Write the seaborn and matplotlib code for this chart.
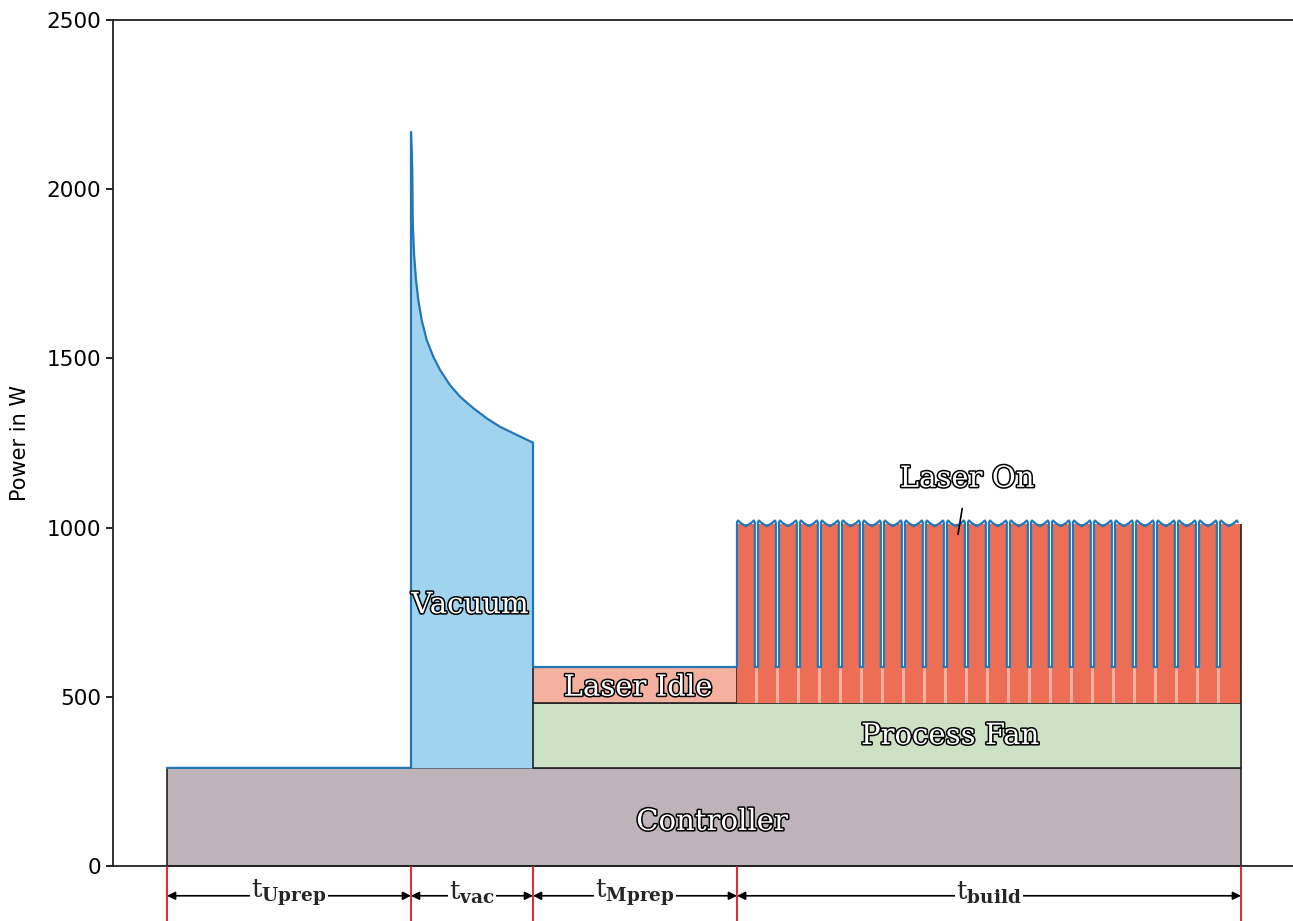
import numpy as np
import pandas as pd
import matplotlib
matplotlib.use("Agg")
import matplotlib.pyplot as plt
import matplotlib.patheffects as pe
import seaborn as sns

# phase boundaries (time, arbitrary units)
t_start, t_vac, t_mprep, t_build, t_end = 0, 244, 366, 570, 1074

# component power levels in W
p_controller = 290
p_fan_top = 483
p_idle_top = 588

# vacuum pump trace (time offset after t_vac, power in W)
vac_dt = [0, 1.3, 1.7, 3, 5, 7.3, 10.7, 15.7, 22.3, 29, 39, 49, 62.3, 75.7, 89, 105.7, 122]
vac_w = [2169, 2057, 1909, 1811, 1732, 1672, 1613, 1554, 1505, 1466, 1421, 1387, 1353, 1323, 1298, 1274, 1251]

# laser-on pulses
pulse_count = 24
pulse_period = 21
pulse_on = 17.8
pulse_dt = [0, 1.0, 3.5, 8.9, 14.3, 16.8, 17.8]
pulse_w = [1016, 1021, 1014, 1004, 1014, 1021, 1016]
pulse_fill_w = 1010

phase_edges = [t_start, t_vac, t_mprep, t_build, t_end]
phase_labels = [r"$\mathrm{t}_{\mathbf{Uprep}}$", r"$\mathrm{t}_{\mathbf{vac}}$",
                r"$\mathrm{t}_{\mathbf{Mprep}}$", r"$\mathrm{t}_{\mathbf{build}}$"]

# ---- build total power trace
tt = [t_start, t_vac]
pp = [p_controller, p_controller]
for d, w in zip(vac_dt, vac_w):
    tt.append(t_vac + d)
    pp.append(w)
tt += [t_mprep, t_build]
pp += [p_idle_top, p_idle_top]
for k in range(pulse_count):
    t0 = t_build + k * pulse_period
    if k > 0:
        tt.append(t0)
        pp.append(p_idle_top)
    for d, w in zip(pulse_dt, pulse_w):
        tt.append(t0 + d)
        pp.append(w)
    if k < pulse_count - 1:
        tt.append(t0 + pulse_on)
        pp.append(p_idle_top)
trace = pd.DataFrame({"t": tt, "P": pp})

sns.set_style("ticks")
plt.rcParams["mathtext.fontset"] = "dejavuserif"

fig = plt.figure(figsize=(12.93, 9.21), dpi=100)
ax = fig.add_axes([113 / 1293, 55 / 921, 1180 / 1293, 846 / 921])

c_ctrl = "#bdb3b9"
c_fan = "#cde1c5"
c_idle = "#f5b19f"
c_on = "#ec6f55"
c_vac = "#a0d4ee"
c_line = "#2376b7"

# controller
ax.fill_between([t_start, t_end], 0, p_controller, color=c_ctrl, edgecolor="#222222", lw=1.2, zorder=1)
# vacuum
vx = [t_vac + d for d in vac_dt]
ax.fill_between(vx, p_controller, vac_w, color=c_vac, lw=0, zorder=1)
# process fan
ax.fill_between([t_mprep, t_end], p_controller, p_fan_top, color=c_fan, edgecolor="#222222", lw=1.2, zorder=1)
# laser idle
ax.fill_between([t_build, t_end], p_fan_top, p_idle_top, color=c_idle, lw=0, zorder=1)
ax.fill_between([t_mprep, t_build], p_fan_top, p_idle_top, color=c_idle, edgecolor="#222222", lw=1.2, zorder=1)
# laser on pulses
for k in range(pulse_count):
    t0 = t_build + k * pulse_period
    t1 = t0 + (pulse_period if k == pulse_count - 1 else pulse_on)
    ax.fill_between([t0, t1], p_fan_top, pulse_fill_w, color=c_on, lw=0, zorder=1.5)
ax.vlines(t_end, p_fan_top, pulse_fill_w, color="#222222", lw=1.2, zorder=1.6)

sns.lineplot(data=trace, x="t", y="P", sort=False, estimator=None, color=c_line, lw=1.6, ax=ax, zorder=3)

# labels
stroke = [pe.withStroke(linewidth=2.2, foreground="black")]
lab_kw = dict(color="white", family="DejaVu Serif", fontsize=21, ha="center", va="center",
              path_effects=stroke, zorder=5)
ax.text(303, 771, "Vacuum", **lab_kw)
ax.text(471, 527, "Laser Idle", **lab_kw)
ax.text(783, 384, "Process Fan", **lab_kw)
ax.text(545, 130, "Controller", **lab_kw)
ax.annotate("Laser On", xy=(791, 980), xytext=(800, 1144), textcoords="data",
            arrowprops=dict(arrowstyle="-", color="black", lw=1.2, shrinkA=9, shrinkB=0), **lab_kw)

# phase markers below axis
ax.vlines(phase_edges, -170, 0, color="#e8141c", lw=1.3, clip_on=False, zorder=4)
y_arr = -88
for a, b, lab in zip(phase_edges[:-1], phase_edges[1:], phase_labels):
    ax.annotate("", xy=(a, y_arr), xytext=(b, y_arr), annotation_clip=False,
                arrowprops=dict(arrowstyle="<|-|>", color="black", lw=1.2, shrinkA=0, shrinkB=0,
                                mutation_scale=12))
    ax.text((a + b) / 2, y_arr + 8, lab, ha="center", va="center", fontsize=19, clip_on=False,
            bbox=dict(facecolor="white", edgecolor="none", pad=1.0), zorder=5)

ax.set_xlim(-54, 1126)
ax.set_ylim(0, 2500)
ax.set_yticks([0, 500, 1000, 1500, 2000, 2500])
ax.set_xticks([])
ax.set_xlabel("")
ax.set_ylabel("Power in W", fontsize=15, color="black", labelpad=12)
ax.tick_params(axis="y", labelsize=15.5, width=1.2, length=5, colors="black")
ax.spines["right"].set_visible(False)
for s in ["left", "bottom", "top"]:
    ax.spines[s].set_linewidth(1.3)
    ax.spines[s].set_color("#222222")

fig.savefig("out.png", dpi=100)
